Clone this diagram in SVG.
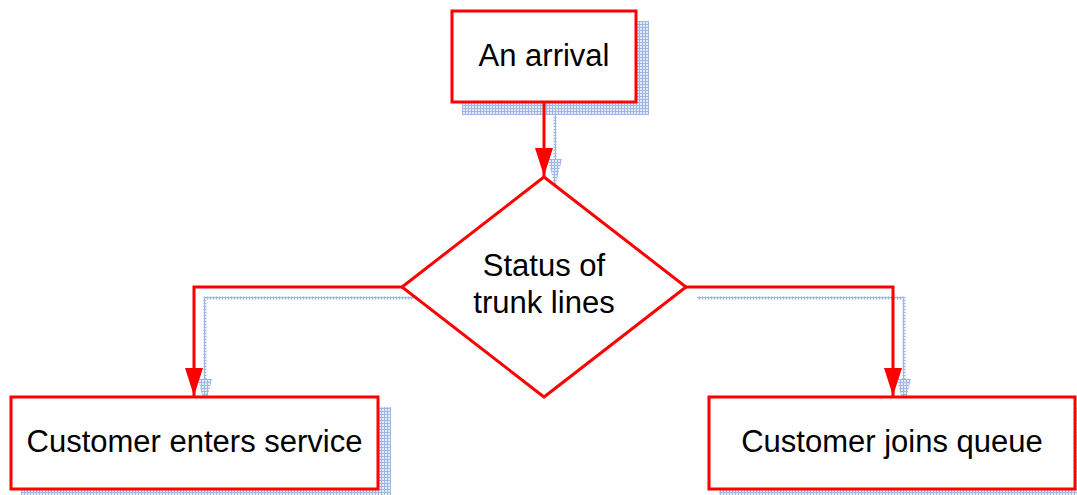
<svg xmlns="http://www.w3.org/2000/svg" width="1077" height="495" viewBox="0 0 1077 495">
  <defs>
    <style>
      .box { fill: #ffffff; stroke: #ff0000; stroke-width: 3; }
      .link { fill: none; stroke: #ff0000; stroke-width: 3; }
      .shade { fill: url(#grid); stroke: none; }
      .shade-link { fill: none; stroke: url(#grid); stroke-width: 3; }
      .label { font-family: "Liberation Sans", Arial, sans-serif; font-size: 31px; fill: #000000; text-anchor: middle; }
    </style>
    <!-- fine blue grid used for drop shadows -->
    <pattern id="grid" width="3" height="3" patternUnits="userSpaceOnUse">
      <rect width="3" height="3" fill="#e4ebf8"/>
      <path d="M0,0.5 H3 M0.5,0 V3" stroke="#9fb6e2" stroke-width="1"/>
    </pattern>
    <marker id="arrow" markerWidth="28" markerHeight="18" refX="28" refY="9" orient="auto" markerUnits="userSpaceOnUse">
      <path d="M0,0 L28,9 L0,18 z" fill="#ff0000"/>
    </marker>
    <marker id="arrow-shade" markerWidth="28" markerHeight="18" refX="28" refY="9" orient="auto" markerUnits="userSpaceOnUse">
      <path d="M0,2 L28,9 L0,16 z" fill="url(#grid)"/>
    </marker>
  </defs>

  <!-- drop shadows -->
  <g id="shadows">
    <rect class="shade" x="462" y="21" width="187" height="94"/>
    <rect class="shade" x="21" y="407" width="370" height="94"/>
    <rect class="shade" x="719" y="407" width="370" height="94"/>
    <path class="shade-link" d="M555,113 V187" marker-end="url(#arrow-shade)"/>
    <path class="shade-link" d="M414,298 H205 V407" marker-end="url(#arrow-shade)"/>
    <path class="shade-link" d="M697,298 H904 V407" marker-end="url(#arrow-shade)"/>
  </g>

  <!-- connectors -->
  <g id="connectors">
    <path class="link" d="M544,102 V176" marker-end="url(#arrow)"/>
    <path class="link" d="M403,287 H194 V396" marker-end="url(#arrow)"/>
    <path class="link" d="M686,287 H893 V396" marker-end="url(#arrow)"/>
  </g>

  <g id="arrival">
    <rect class="box" x="452" y="11" width="184" height="91"/>
    <text class="label" x="544" y="66">An arrival</text>
  </g>

  <g id="status">
    <polygon class="box" points="544,177 686,287 544,397 402,287"/>
    <text class="label" x="544" y="276">Status of</text>
    <text class="label" x="544" y="313">trunk lines</text>
  </g>

  <g id="enters-service">
    <rect class="box" x="11" y="397" width="367" height="92"/>
    <text class="label" x="194.5" y="452">Customer enters service</text>
  </g>

  <g id="joins-queue">
    <rect class="box" x="709" y="397" width="366" height="92"/>
    <text class="label" x="892" y="452">Customer joins queue</text>
  </g>
</svg>
